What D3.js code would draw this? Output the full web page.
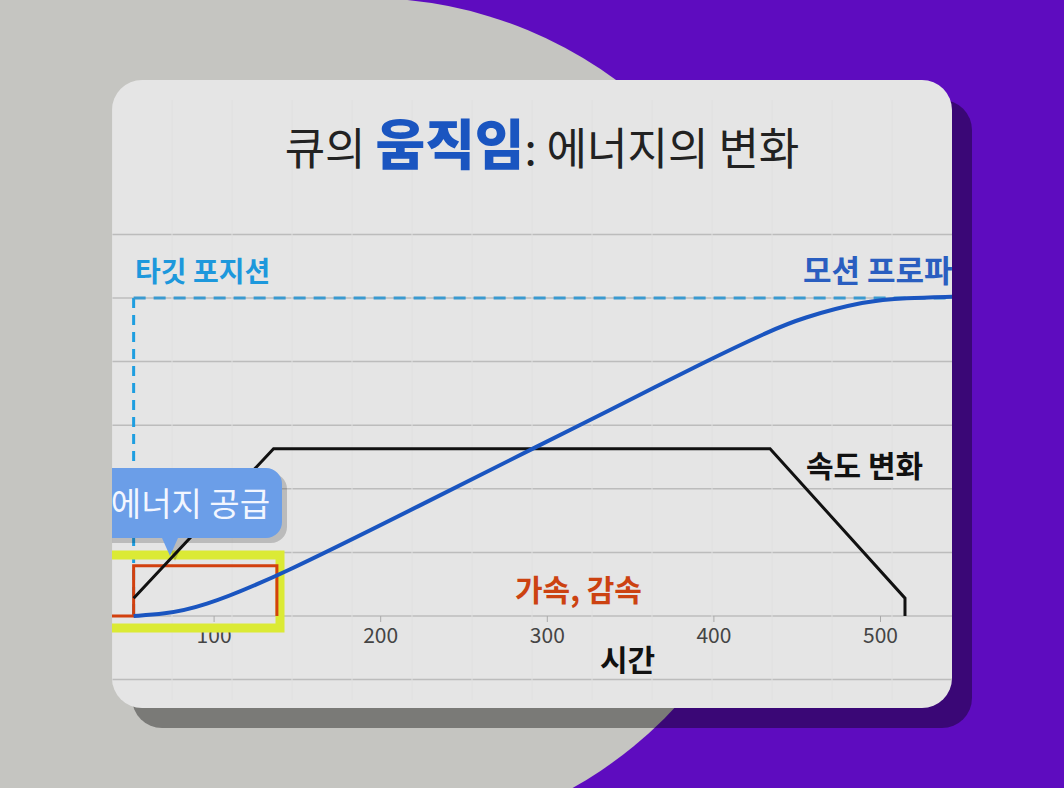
<!DOCTYPE html>
<html><head><meta charset="utf-8">
<script src="https://cdn.jsdelivr.net/npm/d3@7"></script>
<style>body{margin:0;background:#5e0cbf}svg{display:block}</style>
</head><body><svg id="c" width="1064" height="788"></svg>
<script>
const xTicks=[100,200,300,400,500];
const gridLevels=[-1,0,1,2,3,4,5,6];
const velX=[52,136,434,515,515];
const velY=[0.28,2.63,2.63,0.28,0];
const posX=[52,70,92,138,230,296,332,398,434,452,492,515,544];
const posY=[0,0.03,0.13,0.61,1.82,2.69,3.16,4.04,4.48,4.68,4.96,5.0,5.02];
const accelX=[39,52,52,138,138];
const accelY=[0,0,0.79,0.79,0];
const targetX=52, targetY=5;
const title=["큐의 ","움직임",": 에너지의 변화"];

const svg=d3.select("#c");
const font="'Noto Sans CJK KR','Noto Sans',sans-serif";
svg.append("rect").attr("width",1064).attr("height",788).attr("fill","#5e0cbf");
svg.append("circle").attr("cx",366).attr("cy",420).attr("r",422).attr("fill","#c5c5c1");
svg.append("rect").attr("x",0).attr("y",0).attr("width",366).attr("height",788).attr("fill","#c5c5c1");
svg.append("rect").attr("x",132).attr("y",100).attr("width",840).attr("height",628).attr("rx",30).attr("fill","#000").attr("opacity",0.38);
svg.append("rect").attr("x",112).attr("y",80).attr("width",840).attr("height",628).attr("rx",30).attr("fill","#e5e5e5");
svg.append("clipPath").attr("id","card").append("rect").attr("x",112).attr("y",80).attr("width",840).attr("height",628).attr("rx",30);
const g=svg.append("g").attr("clip-path","url(#card)");

const x=d3.scaleLinear().domain([0,100]).range([47,213.6]);
const y=d3.scaleLinear().domain([0,5]).range([616,298]);

g.selectAll(".gl").data(gridLevels).join("line").attr("x1",112).attr("x2",952)
 .attr("y1",d=>y(d)).attr("y2",d=>y(d)).attr("stroke","#bcbcbc").attr("stroke-width",1.5);
g.selectAll(".vl").data(d3.range(112,952,60)).join("line").attr("x1",d=>d).attr("x2",d=>d)
 .attr("y1",100).attr("y2",700).attr("stroke","#e0e0e0").attr("stroke-width",1);
const ax=g.append("g").attr("transform",`translate(0,${y(0)})`).call(d3.axisBottom(x).tickValues(xTicks).tickSize(6).tickPadding(6));
ax.select(".domain").remove();
ax.selectAll("line").attr("stroke","#aaa");
ax.selectAll("text").attr("font-size",21).attr("fill","#444").attr("font-family",font);

const t=svg.append("text").attr("x",542).attr("y",165).attr("text-anchor","middle").attr("font-family",font);
t.append("tspan").text(title[0]).attr("font-size",44).attr("fill","#222");
t.append("tspan").text(title[1]).attr("font-size",54).attr("font-weight",900).attr("fill","#1a55c0");
t.append("tspan").text(title[2]).attr("font-size",44).attr("fill","#222");

g.append("line").attr("x1",x(targetX)).attr("x2",x(targetX)).attr("y1",y(targetY)).attr("y2",y(0))
 .attr("stroke","#1e9ee0").attr("stroke-width",3).attr("stroke-dasharray","10,7");
g.append("line").attr("x1",x(targetX)).attr("x2",952).attr("y1",y(targetY)).attr("y2",y(targetY))
 .attr("stroke","#3a9ad0").attr("stroke-width",3).attr("stroke-dasharray","12,8");

g.append("rect").attr("x",100).attr("y",555).attr("width",180).attr("height",73)
 .attr("fill","none").attr("stroke","#dbea35").attr("stroke-width",9);

const line=d3.line().x(d=>x(d[0])).y(d=>y(d[1]));
g.append("path").attr("d",line(accelX.map((v,i)=>[v,accelY[i]]))).attr("fill","none").attr("stroke","#d2400e").attr("stroke-width",3);
g.append("path").attr("d",line(velX.map((v,i)=>[v,velY[i]]))).attr("fill","none").attr("stroke","#111").attr("stroke-width",3);
g.append("path").attr("d",d3.line().x(d=>x(d[0])).y(d=>y(d[1])).curve(d3.curveBasis)(posX.map((v,i)=>[v,posY[i]]))).attr("fill","none").attr("stroke","#1a55c0").attr("stroke-width",4);

const b=g.append("g");
b.append("path").attr("d","M60,468 h206 a16,16 0 0 1 16,16 v38 a16,16 0 0 1 -16,16 h-88 l-8,18 l-8,-18 h-102 z").attr("fill","#000").attr("opacity",0.18).attr("transform","translate(5,5)");
b.append("path").attr("d","M60,468 h206 a16,16 0 0 1 16,16 v38 a16,16 0 0 1 -16,16 h-88 l-8,18 l-8,-18 h-102 z").attr("fill","#6b9ee8");
b.append("text").attr("x",270).attr("y",516).attr("text-anchor","end").attr("font-size",33).attr("fill","#f2f6ff").attr("font-family",font).text("에너지 공급");

g.append("text").attr("x",135).attr("y",282).attr("font-size",28).attr("font-weight",700).attr("fill","#1d98dc").attr("font-family",font).text("타깃 포지션");
g.append("text").attr("x",803).attr("y",282).attr("font-size",31).attr("font-weight",700).attr("fill","#2a5ec0").attr("font-family",font).text("모션 프로파일");
g.append("text").attr("x",806).attr("y",477).attr("font-size",30).attr("font-weight",700).attr("fill","#111").attr("font-family",font).text("속도 변화");
g.append("text").attr("x",515).attr("y",601).attr("font-size",30).attr("font-weight",700).attr("fill","#cc4211").attr("font-family",font).text("가속, 감속");
g.append("text").attr("x",600).attr("y",671).attr("font-size",30).attr("font-weight",700).attr("fill","#111").attr("font-family",font).text("시간");
</script></body></html>
